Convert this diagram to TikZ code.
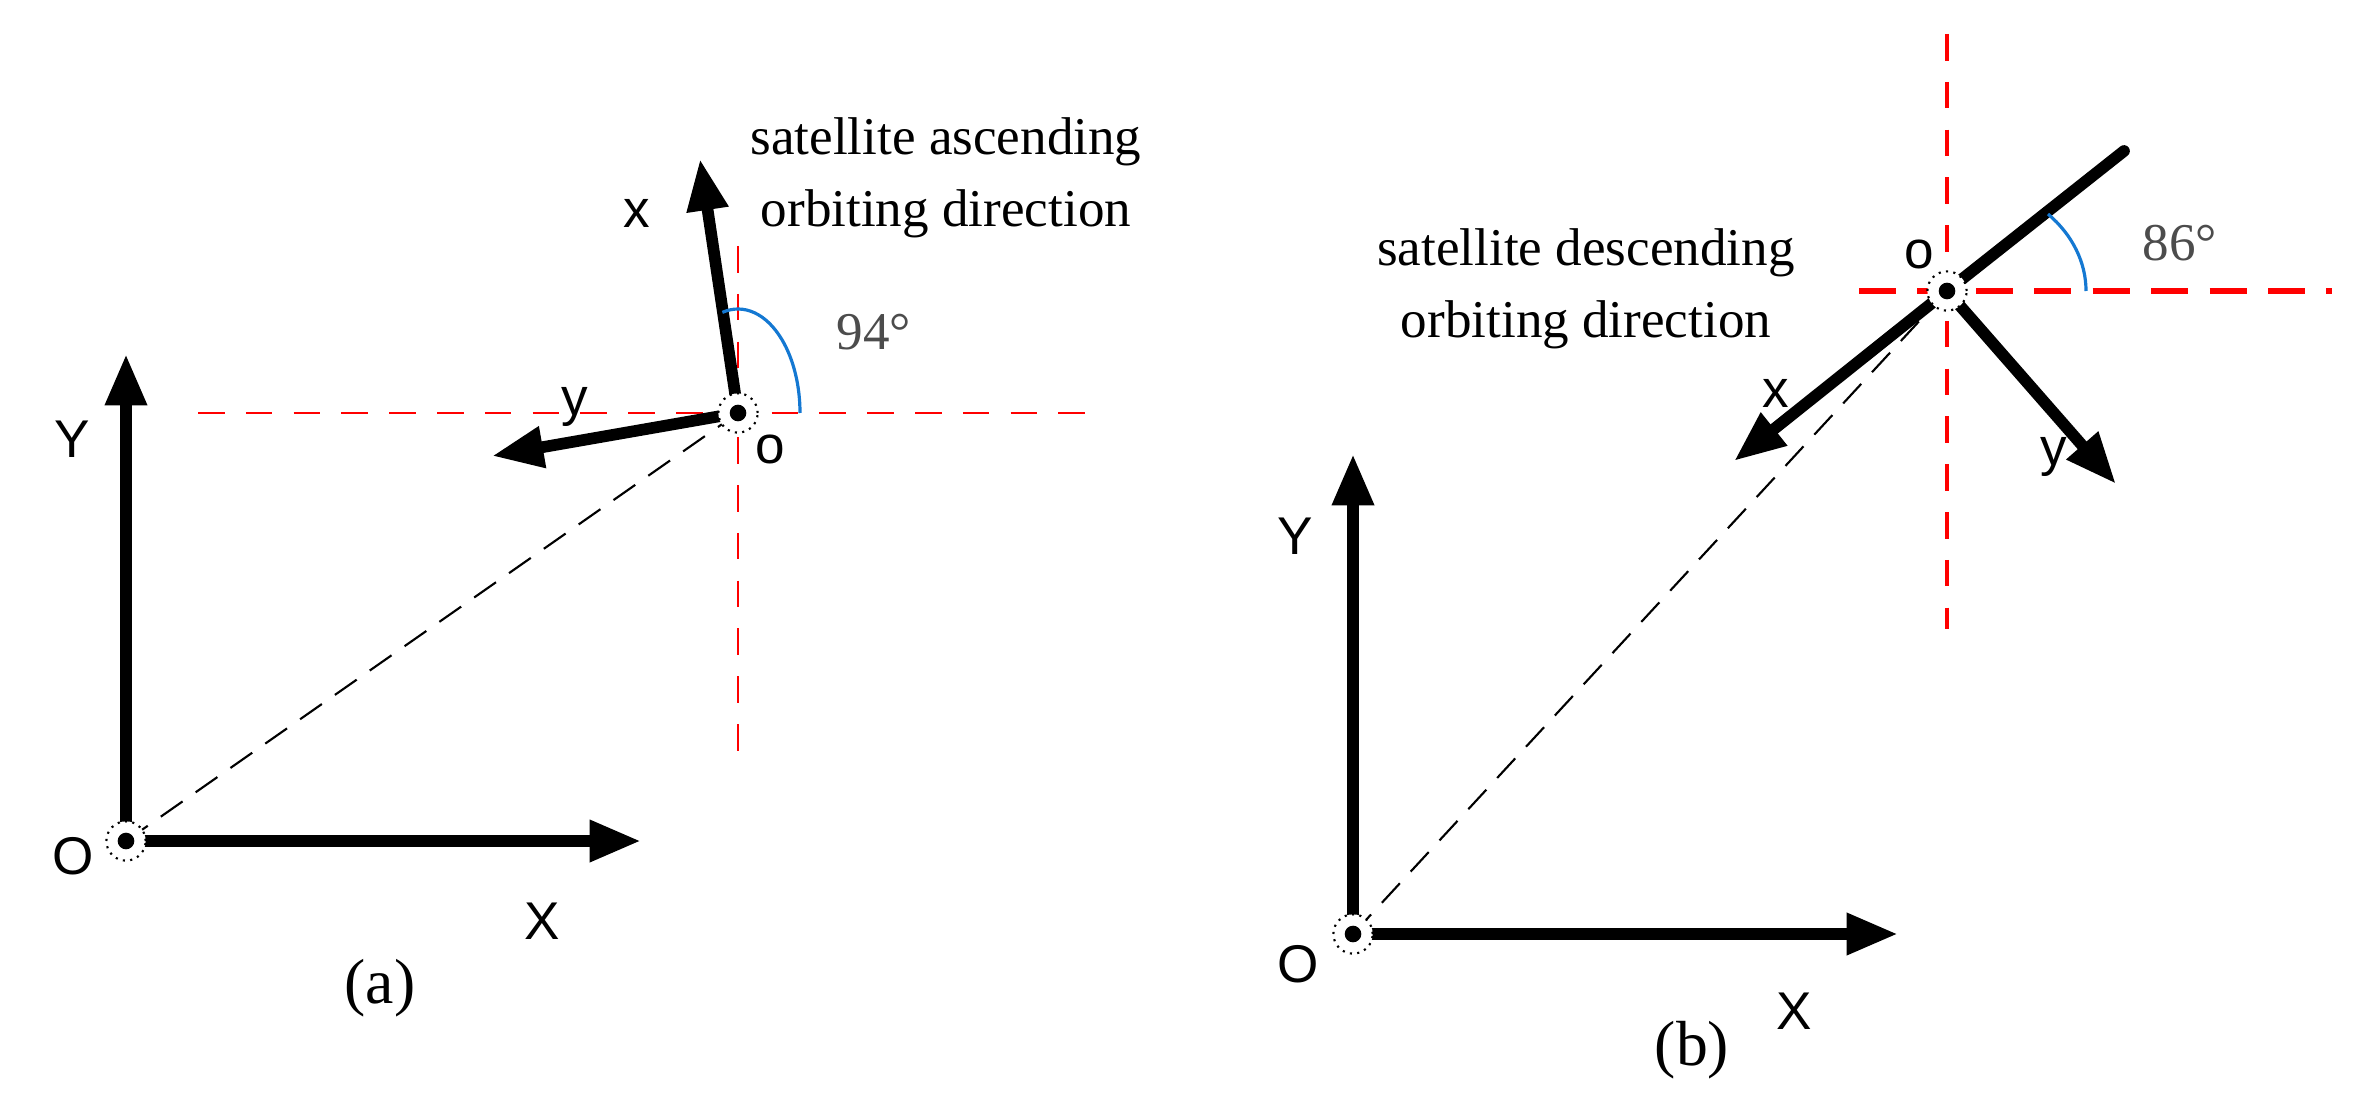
\documentclass[tikz,border=0pt]{standalone}
\usepackage{fontspec}
\setmainfont{Liberation Serif}
\newfontfamily\sansf{Liberation Sans}
\usetikzlibrary{arrows.meta}
\begin{document}
\begin{tikzpicture}[x=0.06618mm,y=-0.06618mm,
  axis/.style={line width=2.2pt,-{Triangle[length=3.4mm,width=2.6mm]}},
  bar/.style={line width=2.2pt,line cap=round},
  reddash/.style={red,dash pattern=on 5pt off 4pt,line width=0.5pt},
  reddashb/.style={red,dash pattern=on 7pt off 4pt,line width=1.1pt},
  blackdash/.style={black,dash pattern=on 5pt off 3pt,line width=0.4pt},
  ang/.style={color={rgb,255:red,20;green,120;blue,210},line width=0.6pt},
  lab/.style={font=\sansf\fontsize{10}{12}\selectfont},
  txt/.style={font=\fontsize{10}{13.5}\selectfont,align=center},
  pt/.style={circle,draw,densely dotted,fill=white,minimum size=2.6mm,inner sep=0pt,line width=0.4pt}]
\useasboundingbox (0,0) rectangle (2358,1113);
% ---------- panel (a)
\coordinate (O1) at (126,841);
\coordinate (o1) at (738,413);
\coordinate (Y1) at (126,354);
\coordinate (X1) at (641,841);
\coordinate (xa) at (700,159);
\coordinate (ya) at (492,456);
\draw[reddash] (198,413) -- (1085,413);
\draw[reddash] (738,246) -- (738,771);
\draw[blackdash] (O1) -- (o1);
\draw[axis] (O1) -- (Y1);
\draw[axis] (O1) -- (X1);
\draw[axis] (o1) -- (xa);
\draw[axis] (o1) -- (ya);
\draw[ang] (o1) ++(-104.6:62 and 104) arc[start angle=-104.6,end angle=0,x radius=62,y radius=104];
\node[pt] (p1) at (O1) {}; \fill (O1) circle[radius=0.55mm];
\node[pt] (q1) at (o1) {}; \fill (o1) circle[radius=0.55mm];
\node[lab] (LY1) at (72,439) {Y};
\node[lab] (LO1) at (73,856) {O};
\node[lab] (LX1) at (542,921) {X};
\node[lab] (Lx1) at (637,213) {x};
\node[lab] (Ly1) at (575,407) {y};
\node[lab] (Lo1) at (770,449) {o};
\node[txt,text=black!70] (La1) at (874,332) {94°};
\node[txt] (T1) at (946,178) {satellite ascending\\orbiting direction};
\node[txt,font=\fontsize{12}{14}\selectfont] (cap1) at (380,988) {(a)};
% ---------- panel (b)
\coordinate (O2) at (1353,934);
\coordinate (o2) at (1947,291);
\coordinate (Y2) at (1353,454);
\coordinate (X2) at (1898,934);
\coordinate (xb) at (1734,461);
\coordinate (yb) at (2116,484);
\coordinate (ub) at (2124,151);
\draw[reddashb] (1859,291) -- (2332,291);
\draw[reddash,line width=0.8pt] (1947,34) -- (1947,629);
\draw[blackdash] (O2) -- (o2);
\draw[axis] (O2) -- (Y2);
\draw[axis] (O2) -- (X2);
\draw[axis] (o2) -- (xb);
\draw[axis] (o2) -- (yb);
\draw[bar] (o2) -- (ub);
\draw[ang] (o2) ++(-43.4:139 and 112) arc[start angle=-43.4,end angle=0,x radius=139,y radius=112];
\node[pt] (p2) at (O2) {}; \fill (O2) circle[radius=0.55mm];
\node[pt] (q2) at (o2) {}; \fill (o2) circle[radius=0.55mm];
\node[lab] (LY2) at (1295,536) {Y};
\node[lab] (LO2) at (1298,964) {O};
\node[lab] (LX2) at (1794,1011) {X};
\node[lab] (Lx2) at (1776,393) {x};
\node[lab] (Ly2) at (2054,457) {y};
\node[lab] (Lo2) at (1919,254) {o};
\node[txt,text=black!70] (La2) at (2180,243) {86°};
\node[txt] (T2) at (1586,289) {satellite descending\\orbiting direction};
\node[txt,font=\fontsize{12}{14}\selectfont] (cap2) at (1692,1050) {(b)};
\end{tikzpicture}
\end{document}
